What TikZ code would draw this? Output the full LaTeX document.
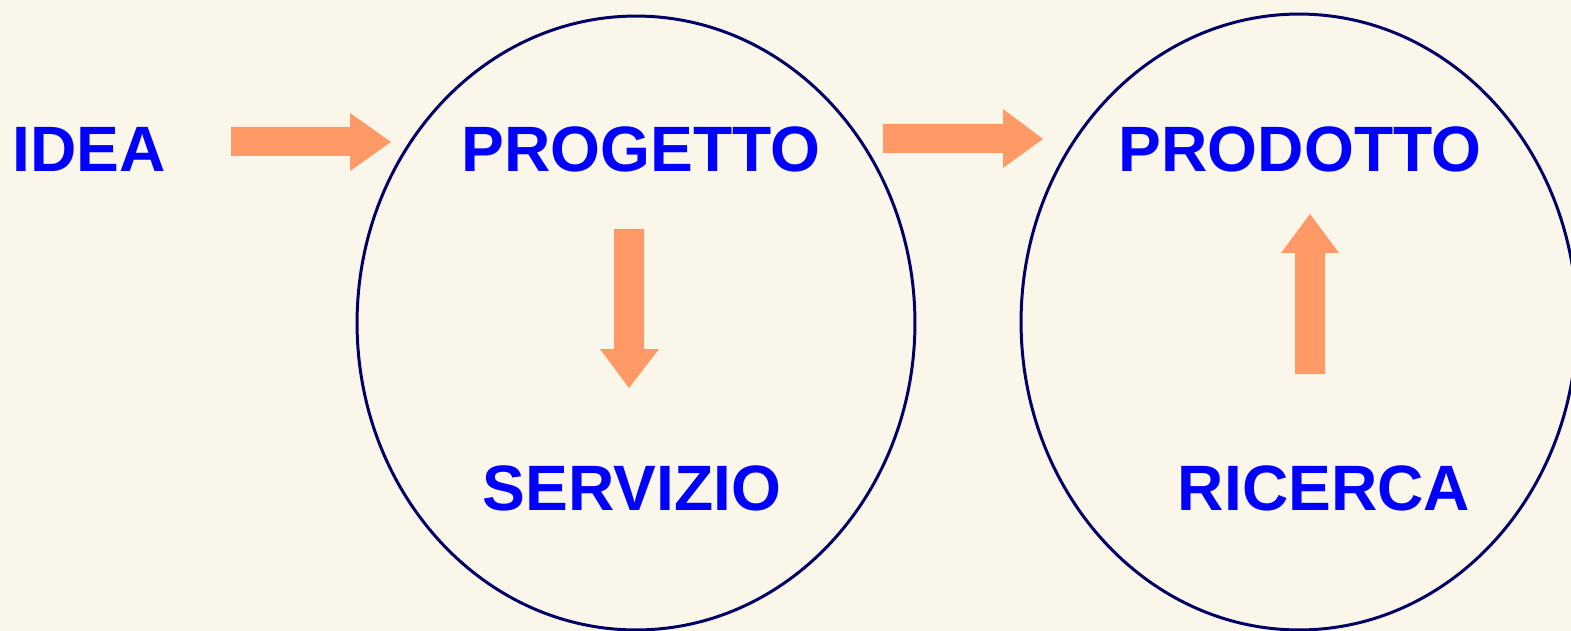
\documentclass[tikz,border=0pt]{standalone}
\usepackage{fontspec}
\setmainfont{Liberation Sans}
\usepackage{tikz}

\definecolor{sfondo}{HTML}{FAF6EA}
\definecolor{freccia}{HTML}{FF9966}
\definecolor{bordo}{HTML}{000066}
\definecolor{testo}{HTML}{0000FF}

\tikzset{
  parola/.style={anchor=base,inner sep=0pt,text=testo,font=\fontsize{36.5}{40}\selectfont\bfseries},
  blocco/.style={fill=freccia},
  insieme/.style={draw=bordo,line width=1.7pt}
}

\begin{document}
\begin{tikzpicture}[x=0.02cm,y=-0.02cm]
 \fill[sfondo] (0,0) rectangle (1571,631);
 \useasboundingbox (0,0) rectangle (1571,631);
 \clip (0,0) rectangle (1571,631);
 % insiemi
 \draw[insieme] (636,323) ellipse [x radius=5.58cm, y radius=6.14cm];
 \draw[insieme] (1299,322) ellipse [x radius=5.56cm, y radius=6.16cm];
 % parole
 \node[parola] (idea) at (89,172) {IDEA};
 \node[parola] (progetto) at (641,172) {PROGETTO};
 \node[parola] (servizio) at (632,510) {SERVIZIO};
 \node[parola] (prodotto) at (1300,172) {PRODOTTO};
 \node[parola] (ricerca) at (1324,510) {RICERCA};
 % frecce
 \fill[blocco] (231,127) -- (350,127) -- (350,113) -- (391,142) -- (350,171) -- (350,156) -- (231,156) -- cycle;
 \fill[blocco] (883,124) -- (1003,124) -- (1003,109) -- (1043,139) -- (1003,168) -- (1003,153) -- (883,153) -- cycle;
 \fill[blocco] (614,229) -- (644,229) -- (644,349) -- (659,349) -- (629,388) -- (600,349) -- (614,349) -- cycle;
 \fill[blocco] (1295,374) -- (1325,374) -- (1325,253) -- (1339,253) -- (1310,214) -- (1281,253) -- (1295,253) -- cycle;
\end{tikzpicture}
\end{document}
